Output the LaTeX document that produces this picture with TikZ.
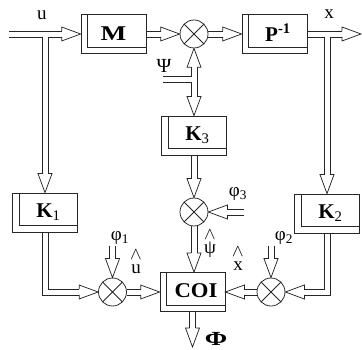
\documentclass[tikz,border=0pt]{standalone}
\usepackage{fontspec}
\setmainfont{Liberation Serif}
\usetikzlibrary{calc}
\newcommand\gG{3}
\newcommand\hH{7}
\newcommand\lL{19}
\newcommand\ahead[2]{\draw[shift={(#1)},rotate=#2] (-\lL,\gG) -- (-\lL,\hH) -- (0,0) -- (-\lL,-\hH) -- (-\lL,-\gG);}
\newcommand\darrow[3]{%
  \path (#2) coordinate (tipc) ($(#2)!\lL pt!(#1)$) coordinate (basec);
  \draw ($(#1)!\gG pt!90:(basec)$) -- ($(basec)!\gG pt!-90:(#1)$);
  \draw ($(#1)!\gG pt!-90:(basec)$) -- ($(basec)!\gG pt!90:(#1)$);
  \ahead{tipc}{#3}}
\newcommand\blab[1]{\hspace*{7pt}\raisebox{2.5pt}{#1}}
\begin{document}
\begin{tikzpicture}[x=1pt,y=-1pt,line width=0.75pt,
  blk/.style={draw=black!85, rectangle, minimum width=65pt, minimum height=39pt, inner sep=0pt,
    font=\bfseries\fontsize{21}{21}\selectfont,
    path picture={\draw ([xshift=6.5pt]path picture bounding box.north west) |- ([yshift=6.5pt]path picture bounding box.south east);}},
  sum/.style={draw=black!85, circle, minimum size=28pt, inner sep=0pt,
    path picture={\draw (path picture bounding box.north west) -- (path picture bounding box.south east)
      (path picture bounding box.north east) -- (path picture bounding box.south west);}},
  lab/.style={inner sep=0pt, font=\fontsize{19}{19}\selectfont}]
\useasboundingbox (0,0) rectangle (362,350);
\begin{scope}[draw=black!85]
% blocks
\node[blk] (M) at (113.5,34) {\raisebox{1.5pt}{\scalebox{1.3}[1]{M}}};
\node[sum] (S1) at (194,34) {};
\node[blk] (P) at (274.5,34) {\blab{P\textsuperscript{-1}}};
\node[blk] (K3) at (194,135.5) {\blab{K\textsubscript{\mdseries 3}}};
\node[sum] (S3) at (194,212) {};
\node[blk] (K1) at (45,212.5) {\blab{K\textsubscript{\mdseries 1}}};
\node[blk] (K2) at (327,213.5) {\blab{K\textsubscript{\mdseries 2}}};
\node[blk] (COI) at (192.5,292) {\blab{\scalebox{1.08}[1]{COI}}};
\node[sum] (S4) at (112.5,292) {};
\node[sum] (S2) at (271,292) {};
% labels
\node[lab] (lu) at (42,15) {u};
\node[lab] (lx) at (329,14) {x};
\node[lab, font=\fontsize{20}{20}\selectfont] (lpsi) at (164,66) {Ψ};
\node[lab] (lf3) at (238,194) {φ\textsubscript{3}};
\node[lab] (lf1) at (120,238) {φ\textsubscript{1}};
\node[lab] (lf2) at (284,238) {φ\textsubscript{2}};
\node[lab, align=center] (luh) at (136,262) {$\wedge$\\[-5pt]u};
\node[lab, align=center] (lxh) at (238,259) {$\wedge$\\[-5pt]x};
\node[lab, align=center] (lph) at (210,244) {$\wedge$\\[-5pt]ψ};
\node[lab, font=\bfseries\fontsize{20}{20}\selectfont] (lPhi) at (216,339) {\scalebox{1.35}[1]{Φ}};
% coordinates
\coordinate (uin) at (9,34);
\coordinate (bu) at (K1.north |- M.west);
\coordinate (xout) at (361,34);
\coordinate (bx) at (K2.north |- P.east);
\coordinate (pj) at (194,79);
\coordinate (ps) at (163,79);
\coordinate (f3) at (244,212);
\coordinate (cn) at (S3.south |- COI.north);
\coordinate (c1) at (K1.south |- S4.west);
\coordinate (f1) at (112.5,246);
\coordinate (c2) at (K2.south |- S2.east);
\coordinate (f2) at (271,246);
\coordinate (fo) at (192.5,347);
% input u
\draw ([yshift=3pt]uin) -- ([xshift=-\lL pt,yshift=3pt]M.west);
\draw ([yshift=-3pt]uin) -- ([xshift=-3pt,yshift=-3pt]bu) -- ([xshift=-3pt,yshift=\lL pt]K1.north);
\draw ([xshift=-\lL pt,yshift=-3pt]M.west) -- ([xshift=3pt,yshift=-3pt]bu) -- ([xshift=3pt,yshift=\lL pt]K1.north);
\ahead{M.west}{0}
\ahead{K1.north}{-90}
% M -> S1 -> P
\darrow{M.east}{S1.west}{0}
\darrow{S1.east}{P.west}{0}
% output x
\draw ([yshift=3pt]P.east) -- ([xshift=-\lL pt,yshift=3pt]xout);
\draw ([yshift=-3pt]P.east) -- ([xshift=-3pt,yshift=-3pt]bx) -- ([xshift=-3pt,yshift=\lL pt]K2.north);
\draw ([xshift=-\lL pt,yshift=-3pt]xout) -- ([xshift=3pt,yshift=-3pt]bx) -- ([xshift=3pt,yshift=\lL pt]K2.north);
\ahead{xout}{0}
\ahead{K2.north}{-90}
% psi
\ahead{S1.south}{90}
\ahead{K3.north}{-90}
\draw ([xshift=3pt,yshift=-\lL pt]S1.south) -- ([xshift=3pt,yshift=\lL pt]K3.north);
\draw ([yshift=3pt]ps) -- ([xshift=-3pt,yshift=3pt]pj) -- ([xshift=-3pt,yshift=-\lL pt]S1.south);
\draw ([yshift=-3pt]ps) -- ([xshift=-3pt,yshift=-3pt]pj) -- ([xshift=-3pt,yshift=\lL pt]K3.north);
% K3 -> S3 -> COI
\darrow{K3.south}{S3.north}{-90}
\darrow{f3}{S3.east}{180}
\darrow{S3.south}{cn}{-90}
% K1 -> S4 -> COI
\draw ([xshift=-3pt]K1.south) -- ([xshift=-3pt,yshift=-3pt]c1) -- ([xshift=-\lL pt,yshift=-3pt]S4.west);
\draw ([xshift=3pt]K1.south) -- ([xshift=3pt,yshift=3pt]c1) -- ([xshift=-\lL pt,yshift=3pt]S4.west);
\ahead{S4.west}{0}
\darrow{f1}{S4.north}{-90}
\darrow{S4.east}{COI.west}{0}
% K2 -> S2 -> COI
\draw ([xshift=3pt]K2.south) -- ([xshift=3pt,yshift=-3pt]c2) -- ([xshift=\lL pt,yshift=-3pt]S2.east);
\draw ([xshift=-3pt]K2.south) -- ([xshift=-3pt,yshift=3pt]c2) -- ([xshift=\lL pt,yshift=3pt]S2.east);
\ahead{S2.east}{180}
\darrow{f2}{S2.north}{-90}
\darrow{S2.west}{COI.east}{180}
% output Phi
\darrow{COI.south}{fo}{-90}
\end{scope}
\end{tikzpicture}
\end{document}
